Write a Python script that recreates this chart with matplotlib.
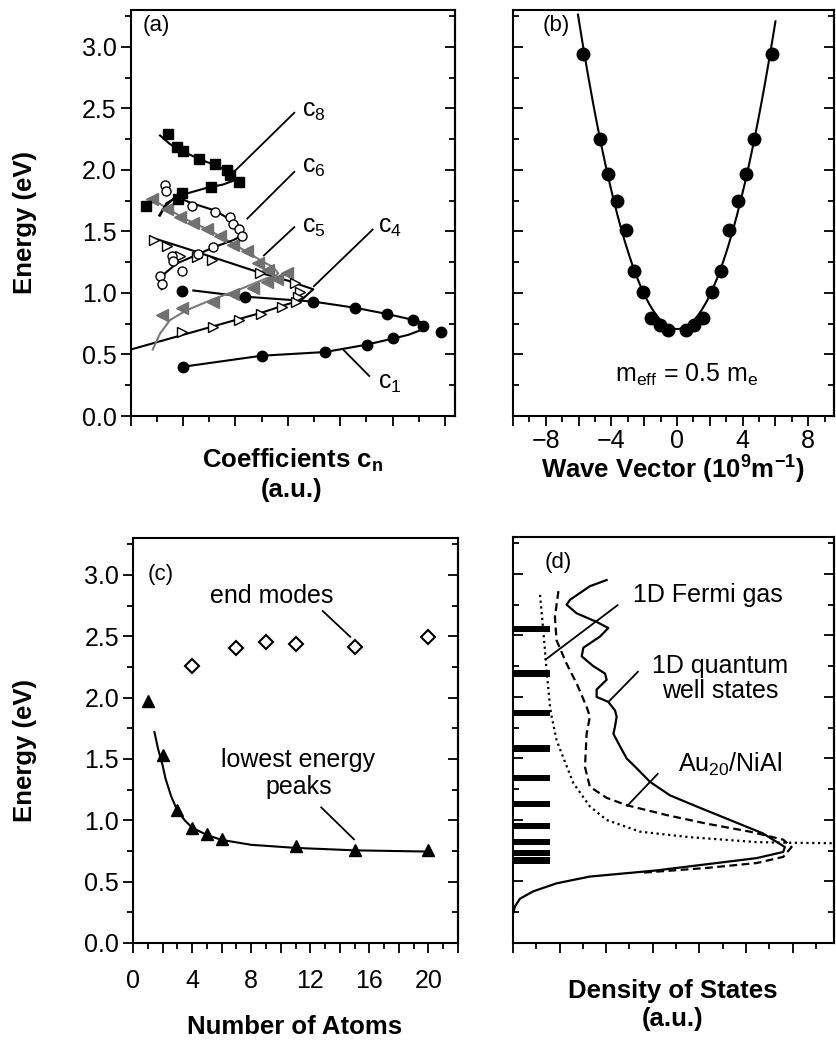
import numpy as np
import matplotlib.pyplot as plt
from matplotlib.ticker import MultipleLocator, FuncFormatter, FormatStrFormatter, NullFormatter

plt.rcParams['font.family'] = 'Liberation Sans'
plt.rcParams['mathtext.fontset'] = 'custom'
plt.rcParams['mathtext.rm'] = 'Liberation Sans'
plt.rcParams['mathtext.it'] = 'Liberation Sans:italic'
plt.rcParams['mathtext.bf'] = 'Liberation Sans:bold'

# ---- panel (a): expansion coefficients c_n vs energy ----
c1_u = [1.95, 4.36, 6.97, 8.56, 9.77, 10.79, 11.17, 11.83, 10.02, 9.01, 7.42, 5.00, 1.98]
c1_E = [1.02, 0.97, 0.93, 0.88, 0.83, 0.78, 0.73, 0.68, 0.63, 0.58, 0.52, 0.49, 0.40]
c1_fit_u = [2.39, 4.36, 6.97, 8.56, 9.77, 10.6, 11.05, 11.25, 11.1, 10.6, 10.02, 9.01, 7.42, 5.0, 1.98]
c1_fit_E = [1.02, 0.97, 0.93, 0.88, 0.83, 0.79, 0.765, 0.735, 0.70, 0.66, 0.63, 0.58, 0.52, 0.49, 0.40]

c4_u = [0.89, 1.37, 1.88, 2.52, 3.09, 4.94, 6.27, 6.46, 6.40, 6.30, 5.79, 4.97, 4.14, 3.15, 1.95]
c4_E = [1.43, 1.38, 1.30, 1.29, 1.27, 1.16, 1.08, 1.01, 0.97, 0.93, 0.89, 0.83, 0.78, 0.72, 0.68]
c4_fit_u = [0.80, 2.0, 3.0, 4.0, 5.0, 6.0, 6.97, 6.5, 6.0, 5.0, 4.0, 3.0, 2.0, 1.0, 0.0]
c4_fit_E = [1.45, 1.37, 1.30, 1.23, 1.16, 1.10, 1.03, 0.94, 0.91, 0.84, 0.78, 0.72, 0.66, 0.60, 0.54]

c5_u = [0.80, 1.37, 1.88, 2.39, 2.90, 3.41, 3.92, 4.43, 4.87, 5.25, 5.57, 5.95, 5.19, 4.68, 3.92, 3.15, 1.95, 1.18]
c5_E = [1.76, 1.68, 1.62, 1.57, 1.52, 1.46, 1.39, 1.34, 1.24, 1.19, 1.11, 1.16, 1.09, 1.04, 0.99, 0.93, 0.88, 0.82]
c5_fit_u = [0.84, 2.0, 3.0, 4.0, 5.0, 5.44, 5.63, 5.5, 5.19, 4.17, 3.15, 2.14, 1.5, 1.12, 0.84]
c5_fit_E = [1.76, 1.61, 1.51, 1.39, 1.26, 1.21, 1.16, 1.13, 1.12, 1.03, 0.95, 0.86, 0.78, 0.67, 0.54]

c6_u = [1.31, 1.35, 2.33, 3.22, 3.79, 3.92, 4.15, 4.24, 3.15, 2.58, 1.56, 1.63, 1.95, 1.12, 1.21]
c6_E = [1.88, 1.83, 1.71, 1.66, 1.62, 1.56, 1.52, 1.46, 1.37, 1.32, 1.30, 1.26, 1.18, 1.14, 1.07]
c6_fit_u = [1.09, 1.37, 1.76, 2.33, 3.22, 3.92, 4.20, 4.20, 3.92, 3.15, 2.52, 1.76, 1.31, 1.12, 1.18]
c6_fit_E = [1.63, 1.73, 1.78, 1.73, 1.67, 1.58, 1.52, 1.46, 1.43, 1.37, 1.31, 1.24, 1.16, 1.08, 1.03]

c8_u = [1.44, 1.76, 1.98, 2.62, 3.22, 3.66, 3.79, 4.15, 3.05, 1.95, 1.82, 0.57]
c8_E = [2.29, 2.19, 2.15, 2.09, 2.05, 2.00, 1.96, 1.90, 1.86, 1.81, 1.76, 1.71]
c8_fit_u = [1.12, 1.5, 2.0, 2.6, 3.2, 3.7, 3.98, 3.9, 3.5, 3.0, 2.5, 2.0, 1.6, 1.3, 1.12]
c8_fit_E = [2.28, 2.21, 2.15, 2.09, 2.04, 1.99, 1.95, 1.91, 1.88, 1.86, 1.83, 1.80, 1.76, 1.70, 1.63]

# ---- panel (b): dispersion ----
k_pts = [-5.75, -4.70, -4.19, -3.64, -3.13, -2.60, -2.09, -1.59, -1.04, -0.53,
         0.53, 1.04, 1.57, 2.11, 2.66, 3.17, 3.70, 4.21, 4.71, 5.77]
E_pts = [2.94, 2.25, 1.97, 1.75, 1.51, 1.18, 1.01, 0.80, 0.74, 0.70,
         0.70, 0.74, 0.80, 1.01, 1.18, 1.51, 1.75, 1.97, 2.25, 2.94]

# ---- panel (c): peak energies vs chain length ----
n_low = [1, 2, 3, 4, 5, 6, 11, 15, 20]
E_low = [1.97, 1.53, 1.08, 0.94, 0.89, 0.85, 0.79, 0.76, 0.755]
n_fit = [1.45, 1.7, 2.0, 2.2, 2.6, 3.0, 3.5, 4.0, 5.0, 6.0, 8.0, 11.0, 15.0, 20.0]
E_fit = [1.72, 1.58, 1.45, 1.34, 1.19, 1.08, 1.00, 0.94, 0.88, 0.84, 0.80, 0.775, 0.755, 0.745]
n_end = [4, 7, 9, 11, 15, 20]
E_end = [2.26, 2.40, 2.45, 2.44, 2.41, 2.49]

# ---- panel (d): density of states ----
levels = [2.55, 2.19, 1.87, 1.58, 1.34, 1.13, 0.95, 0.82, 0.73, 0.67]
fermi_u = [1.16, 1.30, 1.44, 1.59, 1.66, 1.87, 2.09, 2.59, 3.30, 4.02, 5.45, 7.6, 10.46, 11.75, 14.2]
fermi_E = [2.83, 2.54, 2.22, 1.92, 1.84, 1.65, 1.54, 1.30, 1.11, 1.00, 0.905, 0.86, 0.82, 0.815, 0.81]
qw_u = [4.02, 3.30, 2.45, 2.30, 2.73, 3.59, 4.09, 3.73, 3.02, 2.95, 3.45, 3.95, 4.02, 3.59, 3.59,
        4.09, 4.38, 4.45, 4.38, 4.31, 4.59, 4.88, 5.31, 5.88, 6.74, 7.88, 9.31, 10.74, 11.67,
        11.6, 10.46, 8.31, 6.17, 3.30, 1.87, 0.87, 0.30, 0.09, 0.0]
qw_E = [2.95, 2.90, 2.79, 2.75, 2.68, 2.61, 2.56, 2.49, 2.40, 2.33, 2.25, 2.19, 2.14, 2.06, 2.00,
        1.96, 1.89, 1.84, 1.76, 1.70, 1.60, 1.50, 1.42, 1.31, 1.20, 1.11, 1.00, 0.89, 0.78,
        0.74, 0.69, 0.64, 0.59, 0.54, 0.485, 0.42, 0.36, 0.30, 0.24]
au_u = [1.95, 1.80, 1.87, 2.30, 2.73, 3.16, 3.30, 3.16, 3.09, 3.30, 4.02, 4.88, 6.59, 8.31,
        10.17, 11.6, 11.96, 11.6, 10.46, 8.31, 6.17, 5.45]
au_E = [2.86, 2.65, 2.46, 2.27, 2.11, 1.92, 1.84, 1.70, 1.43, 1.27, 1.18, 1.12, 1.04, 0.97,
        0.905, 0.84, 0.78, 0.70, 0.65, 0.61, 0.58, 0.57]

W, H = 836, 1041
fig = plt.figure(figsize=(W / 100, H / 100), dpi=100)
FS = 18
LFS = 18.5
PFS = 16


def add_axes_px(left, top, right, bottom):
    return fig.add_axes([left / W, 1 - bottom / H, (right - left) / W, (bottom - top) / H])


def every_fourth(v, pos):
    if abs(v - 4 * round(v / 4)) < 1e-6:
        return f"{v:.0f}".replace('-', '\u2212')
    return ""


def style(ax, xlim, x_minor, x_major, ylabels, xfmt=None, xpad=4):
    ax.set_xlim(*xlim)
    ax.set_ylim(0, 3.3)
    for s in ax.spines.values():
        s.set_linewidth(1.5)
    ax.xaxis.set_minor_locator(MultipleLocator(x_minor))
    ax.xaxis.set_major_locator(MultipleLocator(x_major))
    ax.xaxis.set_major_formatter(xfmt if xfmt else NullFormatter())
    ax.yaxis.set_major_locator(MultipleLocator(0.5))
    ax.yaxis.set_minor_locator(MultipleLocator(0.25))
    ax.yaxis.set_major_formatter(FormatStrFormatter('%.1f') if ylabels else NullFormatter())
    ax.tick_params(axis='x', which='both', direction='out', top=False, width=1.3, labelsize=FS, pad=xpad)
    ax.tick_params(axis='y', which='both', direction='out' if ylabels else 'in', right=False,
                   width=1.3, labelsize=FS, pad=3)
    ax.tick_params(which='major', length=7)
    ax.tick_params(which='minor', length=4)
    sec = ax.secondary_yaxis('right')
    sec.yaxis.set_major_locator(MultipleLocator(0.5))
    sec.yaxis.set_minor_locator(MultipleLocator(0.25))
    sec.yaxis.set_major_formatter(NullFormatter())
    sec.tick_params(which='both', direction='in', width=1.3)
    sec.tick_params(which='major', length=7)
    sec.tick_params(which='minor', length=4)
    sec.spines['right'].set_linewidth(1.5)


def leader(ax, p0, p1, lw=1.3):
    ax.plot([p0[0], p1[0]], [p0[1], p1[1]], color='k', lw=lw, solid_capstyle='butt')


def energy_label(ax, ycen):
    ax.set_ylabel('Energy (eV)', fontsize=LFS, fontweight='bold', ha='center', va='center')
    ax.yaxis.set_label_coords(25 / W, 1 - ycen / H, transform=fig.transFigure)


# ---------------- (a) ----------------
ax = add_axes_px(130.7, 10, 455, 416)
style(ax, (0, 12.38), 1, 2, True)
ax.plot(c1_fit_u, c1_fit_E, color='k', lw=1.5)
ax.plot(c4_fit_u, c4_fit_E, color='k', lw=1.5)
ax.plot(c5_fit_u, c5_fit_E, color='#7a7a7a', lw=1.5)
ax.plot(c6_fit_u, c6_fit_E, color='k', lw=1.5)
ax.plot(c8_fit_u, c8_fit_E, color='k', lw=1.5)
ax.plot(c5_u, c5_E, ls='none', marker='<', ms=8.5, color='#707070', mec='#707070')
ax.plot(c4_u, c4_E, ls='none', marker='>', ms=7, mfc='white', mec='k', mew=1.0)
ax.plot(c6_u, c6_E, ls='none', marker='o', ms=6.5, mfc='white', mec='k', mew=1.0)
ax.plot(c8_u, c8_E, ls='none', marker='s', ms=7.5, color='k')
ax.plot(c1_u, c1_E, ls='none', marker='o', ms=7.5, color='k')
ax.text(6.53, 2.48, r'c$_\mathregular{8}$', fontsize=FS, va='center')
ax.text(6.53, 2.02, r'c$_\mathregular{6}$', fontsize=FS, va='center')
ax.text(6.53, 1.54, r'c$_\mathregular{5}$', fontsize=FS, va='center')
ax.text(9.45, 1.54, r'c$_\mathregular{4}$', fontsize=FS, va='center')
ax.text(9.45, 0.27, r'c$_\mathregular{1}$', fontsize=FS, va='center')
leader(ax, (6.27, 2.47), (3.92, 1.98))
leader(ax, (6.27, 1.99), (4.43, 1.60))
leader(ax, (6.27, 1.54), (5.06, 1.30))
leader(ax, (9.26, 1.52), (6.97, 1.05))
leader(ax, (9.13, 0.32), (8.11, 0.54))
ax.text(0.45, 3.17, '(a)', fontsize=PFS, va='center')
ax.set_xlabel('Coefficients c$_\\mathbf{n}$\n(a.u.)', fontsize=LFS, fontweight='bold',
              va='center', linespacing=1.2)
ax.xaxis.set_label_coords(292 / W, 1 - 474 / H, transform=fig.transFigure)
energy_label(ax, 223)

# ---------------- (b) ----------------
ax = add_axes_px(513, 10, 834, 416)
style(ax, (-10, 9.57), 1, 2, False, FuncFormatter(every_fourth), xpad=2)
coef = np.polyfit(k_pts, E_pts, 2)
k_line = np.linspace(-6.04, 6.0, 200)
ax.plot(k_line, np.polyval(coef, k_line), color='k', lw=1.5)
ax.plot(k_pts, E_pts, ls='none', marker='o', ms=9, color='k')
ax.text(0.6, 0.33, r'm$_\mathregular{eff}$ = 0.5 m$_\mathregular{e}$', fontsize=FS, ha='center', va='center')
ax.text(-8.2, 3.17, '(b)', fontsize=PFS, va='center')
ax.set_xlabel('Wave Vector (10$^\\mathbf{9}$m$^\\mathbf{-1}$)', fontsize=LFS, fontweight='bold', va='center')
ax.xaxis.set_label_coords(673 / W, 1 - 470 / H, transform=fig.transFigure)

# ---------------- (c) ----------------
ax = add_axes_px(133, 538, 458, 943)
style(ax, (0, 22), 1, 2, True, FuncFormatter(every_fourth), xpad=12)
ax.plot(n_fit, E_fit, color='k', lw=1.5)
ax.plot(n_low, E_low, ls='none', marker='^', ms=9, color='k')
ax.plot(n_end, E_end, ls='none', marker='D', ms=7.5, mfc='white', mec='k', mew=1.5)
ax.text(9.4, 2.83, 'end modes', fontsize=FS, ha='center', va='center')
leader(ax, (12.8, 2.71), (14.75, 2.49))
ax.text(11.2, 1.38, 'lowest energy\npeaks', fontsize=FS, ha='center', va='center', linespacing=1.15)
leader(ax, (12.7, 1.11), (15.0, 0.84))
ax.text(1.0, 3.0, '(c)', fontsize=PFS, va='center')
ax.set_xlabel('Number of Atoms', fontsize=LFS, fontweight='bold', va='center')
ax.xaxis.set_label_coords(295 / W, 1 - 1027 / H, transform=fig.transFigure)
energy_label(ax, 750)

# ---------------- (d) ----------------
ax = add_axes_px(513, 537, 834, 943)
style(ax, (0, 13.78), 1, 2, False)
ax.barh(levels, 1.6, height=0.052, left=0, color='k')
ax.plot(fermi_u, fermi_E, color='k', lw=1.6, ls=(0, (1, 1.6)))
ax.plot(au_u, au_E, color='k', lw=1.6, ls=(0, (3.5, 2)))
ax.plot(qw_u, qw_E, color='k', lw=1.6)
ax.text(5.16, 2.83, '1D Fermi gas', fontsize=FS, va='center')
leader(ax, (4.52, 2.75), (1.37, 2.30))
ax.text(8.88, 2.15, '1D quantum\nwell states', fontsize=FS, ha='center', va='center', linespacing=1.1)
leader(ax, (5.39, 2.21), (4.10, 1.96))
ax.text(7.1, 1.45, 'Au$_\\mathregular{20}$/NiAl', fontsize=FS, va='center')
leader(ax, (6.24, 1.38), (4.88, 1.11))
ax.text(1.37, 3.09, '(d)', fontsize=PFS, va='center')
ax.set_xlabel('Density of States\n(a.u.)', fontsize=LFS, fontweight='bold', va='center', linespacing=1.2)
ax.xaxis.set_label_coords(673 / W, 1 - 1005 / H, transform=fig.transFigure)

fig.savefig('out.png', dpi=100)
